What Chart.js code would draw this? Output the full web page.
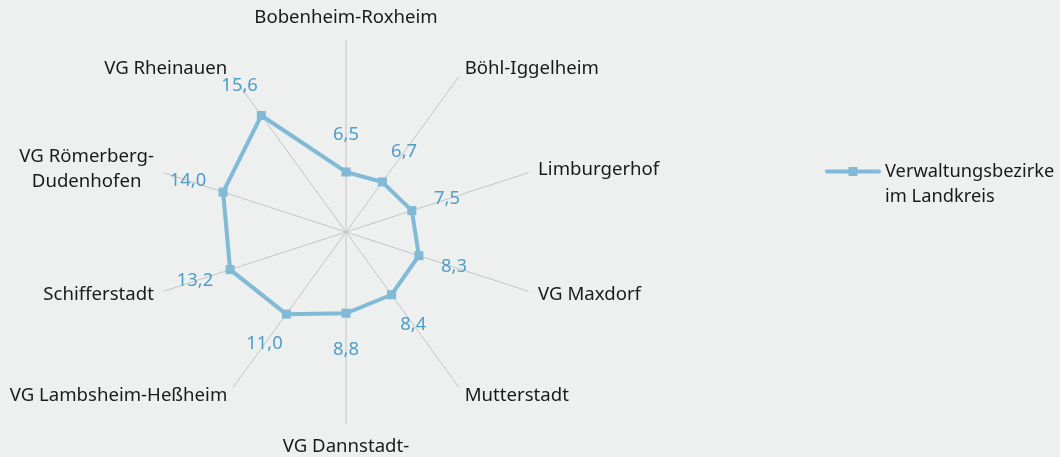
<!DOCTYPE html>
<html><head><meta charset="utf-8">
<script src="https://cdn.jsdelivr.net/npm/chart.js@4.4.1/dist/chart.umd.min.js"></script>
<style>
html,body{margin:0;padding:0;background:#eeefef;overflow:hidden}
#wrap{width:1060px;height:457px;position:relative}
</style></head><body>
<div id="wrap"><canvas id="c" width="1060" height="457"></canvas></div>
<script>
const categories = [['Bobenheim-Roxheim'], ['Böhl-Iggelheim'], ['Limburgerhof'], ['VG Maxdorf'], ['Mutterstadt'], ['VG Dannstadt-', 'Schauernheim'], ['VG Lambsheim-Heßheim'], ['Schifferstadt'], ['VG Römerberg-', 'Dudenhofen'], ['VG Rheinauen']];
const seriesName = ['Verwaltungsbezirke', 'im Landkreis'];
const values = [6.5, 6.7, 7.5, 8.3, 8.4, 8.8, 11.0, 13.2, 14.0, 15.6];
const scaleMin = 0;
const scaleMax = 20.8;

const LINE = '#80bad6';
const VALUE_COLOR = '#4d9ec8';
const TEXT = '#1a1a1a';
const FONT = '"Noto Sans", "Open Sans", sans-serif';

const categoryLabels = {
  id: 'categoryLabels',
  afterDraw(chart) {
    const s = chart.scales.r, ctx = chart.ctx;
    ctx.save();
    ctx.font = '18.6px ' + FONT;
    ctx.fillStyle = TEXT;
    ctx.textBaseline = 'middle';
    ctx.textAlign = 'center';
    const lh = 25;
    chart.data.labels.forEach((lab, i) => {
      const lines = Array.isArray(lab) ? lab : [lab];
      const ang = s.getIndexAngle(i);
      const sin = Math.sin(ang), cos = Math.cos(ang);
      const p = s.getPointPosition(i, s.drawingArea + 10);
      const maxW = Math.max(...lines.map(t => ctx.measureText(t).width));
      let cx;
      if (Math.abs(sin) < 0.01) cx = p.x;
      else if (sin > 0) cx = p.x + maxW / 2;
      else cx = p.x - maxW / 2;
      const blockH = lines.length * lh;
      let yTop;
      if (Math.abs(sin) < 0.01) yTop = cos > 0 ? p.y - blockH : p.y;
      else yTop = p.y - blockH / 2;
      lines.forEach((t, k) => ctx.fillText(t, cx, yTop + lh * k + lh / 2));
    });
    ctx.restore();
  }
};

const valueLabels = {
  id: 'valueLabels',
  afterDatasetsDraw(chart) {
    const s = chart.scales.r, ctx = chart.ctx;
    ctx.save();
    ctx.font = '18.4px ' + FONT;
    ctx.fillStyle = VALUE_COLOR;
    ctx.textAlign = 'center';
    ctx.textBaseline = 'middle';
    chart.data.datasets[0].data.forEach((v, i) => {
      const p = s.getPointPosition(i, s.getDistanceFromCenterForValue(v) + 37);
      ctx.fillText(v.toFixed(1).replace('.', ','), p.x, p.y);
    });
    ctx.restore();
  }
};

const sideLegend = {
  id: 'sideLegend',
  afterDraw(chart) {
    const ctx = chart.ctx;
    ctx.save();
    ctx.strokeStyle = LINE;
    ctx.lineWidth = 4;
    ctx.lineCap = 'round';
    ctx.beginPath();
    ctx.moveTo(827, 171.5);
    ctx.lineTo(879, 171.5);
    ctx.stroke();
    ctx.fillStyle = LINE;
    ctx.fillRect(848.5, 167, 9, 9);
    ctx.font = '18.3px ' + FONT;
    ctx.fillStyle = TEXT;
    ctx.textAlign = 'left';
    ctx.textBaseline = 'middle';
    seriesName.forEach((t, k) => ctx.fillText(t, 885, 172 + 25 * k));
    ctx.restore();
  }
};

new Chart(document.getElementById('c'), {
  type: 'radar',
  data: {
    labels: categories,
    datasets: [{
      label: seriesName.join(' '),
      data: values,
      borderColor: LINE,
      borderWidth: 4,
      backgroundColor: LINE,
      fill: false,
      pointStyle: 'rect',
      pointRadius: 6.4,
      pointBorderWidth: 0,
      pointBackgroundColor: LINE,
      tension: 0
    }]
  },
  options: {
    responsive: false,
    devicePixelRatio: 1,
    animation: false,
    layout: { padding: { top: 40, bottom: 33, left: 0, right: 368 } },
    plugins: { legend: { display: false }, tooltip: { enabled: false } },
    scales: {
      r: {
        min: scaleMin,
        max: scaleMax,
        grid: { display: false },
        ticks: { display: false },
        angleLines: { display: true, color: '#c4c4c4', lineWidth: 1 },
        pointLabels: { display: false }
      }
    }
  },
  plugins: [categoryLabels, valueLabels, sideLegend]
});
</script>
</body></html>
